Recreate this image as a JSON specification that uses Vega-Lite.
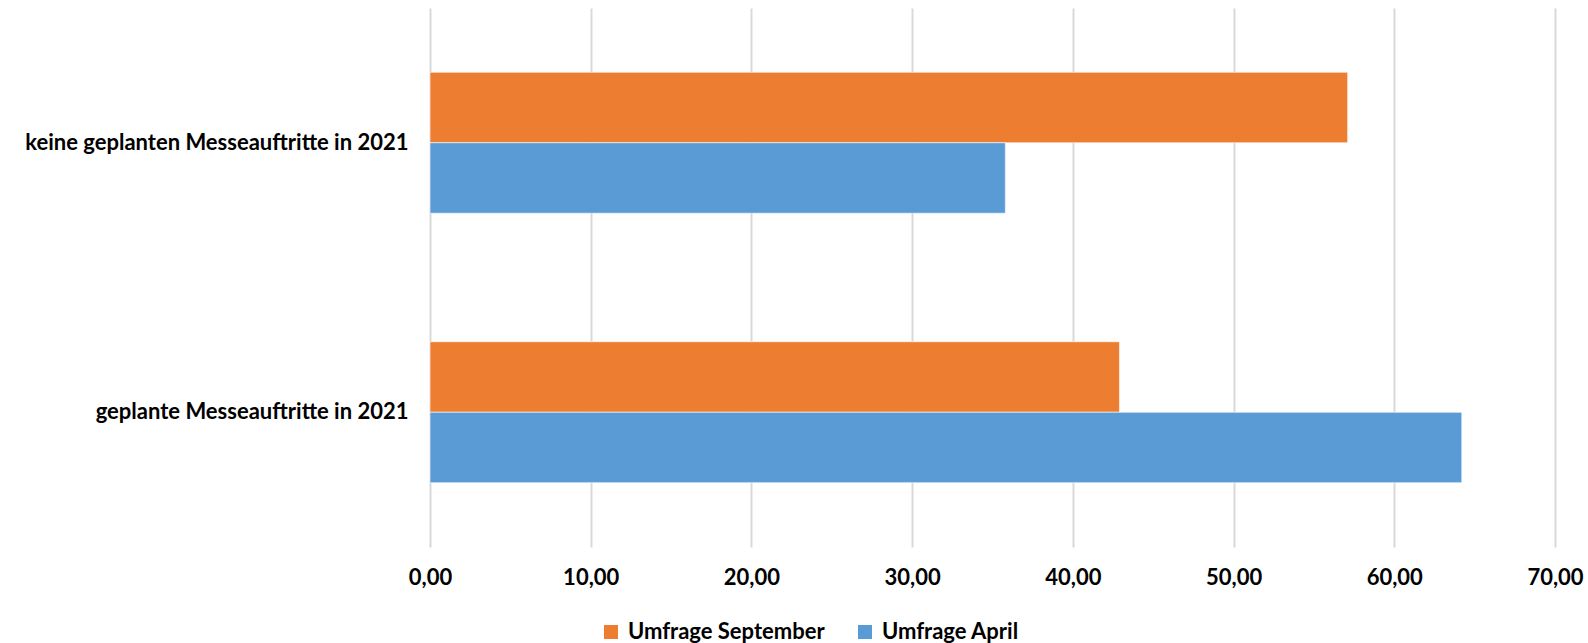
{
  "$schema": "https://vega.github.io/schema/vega-lite/v6.json",
  "width": 1125,
  "height": 539,
  "autosize": {"type": "none"},
  "padding": {"left": 430, "top": 8, "right": 33, "bottom": 96},
  "data": {
    "values": [
      {"kategorie": "keine geplanten Messeauftritte in 2021", "umfrage": "Umfrage September", "wert": 57.1},
      {"kategorie": "keine geplanten Messeauftritte in 2021", "umfrage": "Umfrage April", "wert": 35.8},
      {"kategorie": "geplante Messeauftritte in 2021", "umfrage": "Umfrage September", "wert": 42.9},
      {"kategorie": "geplante Messeauftritte in 2021", "umfrage": "Umfrage April", "wert": 64.2}
    ]
  },
  "mark": {"type": "bar", "stroke": "#ffffff", "strokeWidth": 1, "strokeOpacity": 0.6},
  "encoding": {
    "y": {
      "field": "kategorie",
      "type": "nominal",
      "sort": ["keine geplanten Messeauftritte in 2021", "geplante Messeauftritte in 2021"],
      "scale": {"paddingInner": 0.477, "paddingOuter": 0.2385},
      "axis": {
        "title": null,
        "domain": false,
        "ticks": false,
        "labelPadding": 22,
        "labelFont": "Lato",
        "labelFontSize": 22,
        "labelFontWeight": "bold",
        "labelColor": "#000000",
        "labelLimit": 600
      }
    },
    "yOffset": {
      "field": "umfrage",
      "type": "nominal",
      "sort": ["Umfrage September", "Umfrage April"],
      "scale": {"paddingInner": 0, "paddingOuter": 0}
    },
    "x": {
      "field": "wert",
      "type": "quantitative",
      "scale": {"domain": [0, 70], "nice": false},
      "axis": {
        "title": null,
        "values": [0, 10, 20, 30, 40, 50, 60, 70],
        "domain": false,
        "ticks": false,
        "grid": true,
        "gridColor": "#d9d9d9",
        "gridWidth": 2,
        "labelExpr": "replace(format(datum.value, '.2f'), '.', ',')",
        "labelPadding": 20,
        "labelFont": "Lato",
        "labelFontSize": 22,
        "labelFontWeight": "bold",
        "labelColor": "#000000",
        "labelFlush": false
      }
    },
    "color": {
      "field": "umfrage",
      "type": "nominal",
      "scale": {"domain": ["Umfrage September", "Umfrage April"], "range": ["#ED7D31", "#5B9BD5"]},
      "legend": {
        "title": null,
        "orient": "none",
        "direction": "horizontal",
        "legendX": 170,
        "legendY": 613,
        "symbolType": "square",
        "symbolSize": 196,
        "symbolStrokeWidth": 0,
        "labelFont": "Lato",
        "labelFontSize": 22,
        "labelFontWeight": "bold",
        "labelColor": "#000000",
        "labelOffset": 6,
        "columnPadding": 29,
        "labelLimit": 400
      }
    }
  },
  "config": {"view": {"stroke": null}}
}
